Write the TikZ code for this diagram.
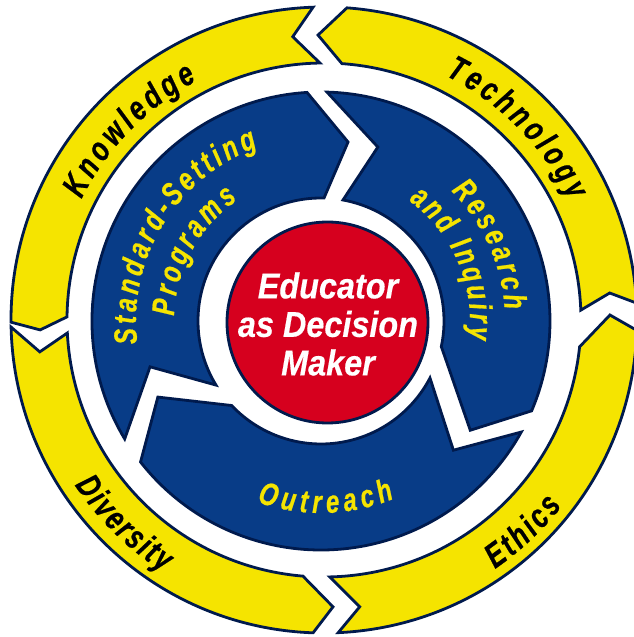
\documentclass[tikz,border=0pt]{standalone}
\usepackage{fontspec}
\usetikzlibrary{decorations.text}
\newfontfamily\labfont[FakeStretch=0.75, FakeBold=0.6]{Liberation Sans}
\newfontfamily\hubfont[FakeStretch=0.9, FakeBold=0.4]{Liberation Sans}
\definecolor{ringyellow}{RGB}{245,228,0}
\definecolor{ringblue}{RGB}{8,60,135}
\definecolor{hubred}{RGB}{214,0,30}
\definecolor{edgeblue}{RGB}{0,26,77}
\newcommand\outerfont{\labfont\bfseries\itshape\fontsize{34}{34}\selectfont\color{black}}
\newcommand\innerfont{\labfont\bfseries\itshape\fontsize{32}{32}\selectfont\color{ringyellow}}

\begin{document}
\begin{tikzpicture}[x=1pt,y=1pt,
  yellowarrow/.style={fill=ringyellow, draw=edgeblue, line width=2.8pt},
  bluearrow/.style={fill=ringblue, draw=edgeblue, line width=2.8pt},
  hub/.style={circle, fill=hubred, draw=edgeblue, line width=2.8pt, minimum size=201pt, inner sep=0pt},
  hubtext/.style={align=center, text=white, font=\hubfont\bfseries\itshape\fontsize{36}{38.5}\selectfont},
  arclabel/.style={decorate, decoration={text along path, text align={fit to path}, text={#1}}}
]
\fill[white] (-324,-317) rectangle (310,320);
\useasboundingbox (-324,-317) rectangle (310,320);

% outer ring: four arrows turning counter-clockwise
\draw[yellowarrow] (3.1:313) arc[start angle=3.1, end angle=85.8, radius=313]
  -- (91.2:285) -- (86:257) arc[start angle=86, end angle=2.2, radius=257] -- (5.4:287) -- cycle;
\draw[yellowarrow] (92:313) arc[start angle=92, end angle=180.4, radius=313]
  -- (182:284) -- (179.3:257) arc[start angle=179.3, end angle=90.9, radius=257] -- (96.3:285) -- cycle;
\draw[yellowarrow] (181.3:313) arc[start angle=181.3, end angle=268, radius=313]
  -- (271.8:287) -- (265.3:257) arc[start angle=265.3, end angle=182.9, radius=257] -- (186.4:286) -- cycle;
\draw[yellowarrow] (272.6:313) arc[start angle=272.6, end angle=358.1, radius=313]
  -- (361:286) -- (354:257) arc[start angle=354, end angle=271.3, radius=257] -- (277.1:289) -- cycle;

\path[arclabel={|\outerfont|Knowledge}] (153.5:271) arc[start angle=153.5, end angle=118, radius=271];
\path[arclabel={|\outerfont|Technology}] (63.6:273) arc[start angle=63.6, end angle=26, radius=273];
\path[arclabel={|\outerfont|Diversity}] (213.5:299) arc[start angle=213.5, end angle=237.5, radius=299];
\path[arclabel={|\outerfont|Ethics}] (304.5:302) arc[start angle=304.5, end angle=322, radius=302];

% inner ring: three arrows turning clockwise
\begin{scope}[shift={(-3,-1)}]
\draw[bluearrow] (211:229) arc[start angle=211, end angle=93.5, radius=229]
  -- (81.4:181) -- (88.6:123) arc[start angle=88.6, end angle=211.4, radius=123] -- (195:177) -- cycle;
\draw[bluearrow] (88.5:229) arc[start angle=88.5, end angle=-23.1, radius=229]
  -- (-36.2:185) -- (-12:123) arc[start angle=-12, end angle=79.7, radius=123] -- (71.9:183) -- cycle;
\draw[bluearrow] (-29:229) arc[start angle=-29, end angle=-142, radius=229]
  -- (-155:180) -- (-136.6:123) arc[start angle=-136.6, end angle=-27.6, radius=123] -- (-44.3:185) -- cycle;

\path[arclabel={|\innerfont|Standard-Setting}] (187:185) arc[start angle=187, end angle=110, radius=185];
\path[arclabel={|\innerfont|Programs}] (178:147) arc[start angle=178, end angle=124.5, radius=147];
\path[arclabel={|\innerfont|Research}] (45:184) arc[start angle=45, end angle=3.5, radius=184];
\path[arclabel={|\innerfont|and Inquiry}] (54:149) arc[start angle=54, end angle=-7, radius=149];
\path[arclabel={|\innerfont|Outreach}] (250.5:192) arc[start angle=250.5, end angle=292.5, radius=192];
\end{scope}

% centre
\node[hub] (hub) at (3.5,-2.5) {};
\node[hubtext] (title) at (4,-4) {Educator\\as Decision\\Maker};
\end{tikzpicture}
\end{document}
